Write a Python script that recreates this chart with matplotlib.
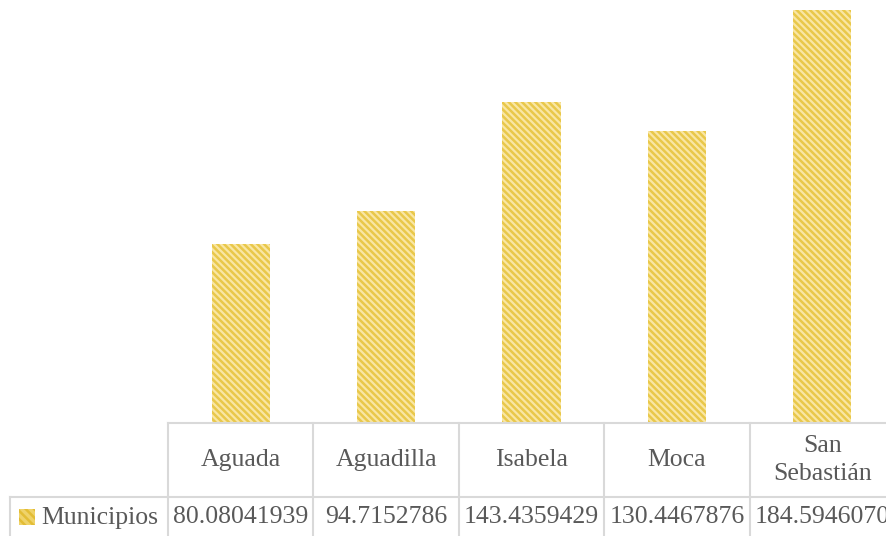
import matplotlib.pyplot as plt
import matplotlib.transforms as mtransforms
from matplotlib.patches import Rectangle

municipios = ['Aguada', 'Aguadilla', 'Isabela', 'Moca', 'San\nSebastián']
valores = [80.08041939, 94.7152786, 143.4359429, 130.4467876, 184.5946070]
etiquetas = ['80.08041939', '94.7152786', '143.4359429', '130.4467876', '184.5946070']
serie = 'Municipios'

W, H = 886, 536
fill_col = '#f9e6a4'
hatch_col = '#e9c84a'
grid_col = '#d9d9d9'
text_col = '#595959'
fs = 18.5

plt.rcParams['font.family'] = ['Liberation Serif', 'DejaVu Serif']
plt.rcParams['hatch.linewidth'] = 1.8

fig = plt.figure(figsize=(W / 100, H / 100), dpi=100)
ax = fig.add_axes([168 / W, (H - 423) / H, (895 - 168) / W, 423 / H])

x = list(range(len(municipios)))
ax.bar(x, valores, width=0.4, color=fill_col, edgecolor=hatch_col,
       hatch='\\\\\\\\\\', linewidth=0)
ax.set_xlim(-0.5, len(municipios) - 0.5)
ax.set_ylim(0, 423 / 2.2355)
ax.axis('off')

# data table under the chart
trans = mtransforms.blended_transform_factory(ax.transData, ax.transAxes)
px = 1 / 423
y_top = 0
y_mid = -(497 - 423) * px
y_bot = -(540 - 423) * px
lw = 1.5

ax.plot([-0.5, 4.6], [y_top, y_top], transform=trans, color=grid_col, lw=lw, clip_on=False)
for i in range(len(municipios)):
    ax.plot([i - 0.5, i - 0.5], [y_top, y_bot], transform=trans, color=grid_col, lw=lw, clip_on=False)
    ax.text(i, (y_top + y_mid) / 2, municipios[i], transform=trans, ha='center', va='center',
            fontsize=fs, color=text_col, linespacing=1.3, clip_on=False)
    ax.text(i, -(517 - 423) * px, etiquetas[i], transform=trans, ha='center', va='center',
            fontsize=fs, color=text_col, clip_on=False)

# row header with legend key
fx = lambda p: p / W
fy = lambda p: 1 - p / H
fig.add_artist(plt.Line2D([fx(10), fx(168)], [fy(497), fy(497)], color=grid_col, lw=lw))
fig.add_artist(plt.Line2D([fx(168), 1.0], [fy(497), fy(497)], color=grid_col, lw=lw))
fig.add_artist(plt.Line2D([fx(10), fx(10)], [fy(497), 0], color=grid_col, lw=lw))
fig.add_artist(Rectangle((fx(19), fy(525)), fx(16), 16 / H, facecolor='#efd36a',
                         edgecolor='#e3bd35', hatch='\\\\\\\\', linewidth=0))
fig.text(fx(100), fy(518), serie, ha='center', va='center', fontsize=fs, color=text_col)

fig.savefig('out.png', dpi=100)
